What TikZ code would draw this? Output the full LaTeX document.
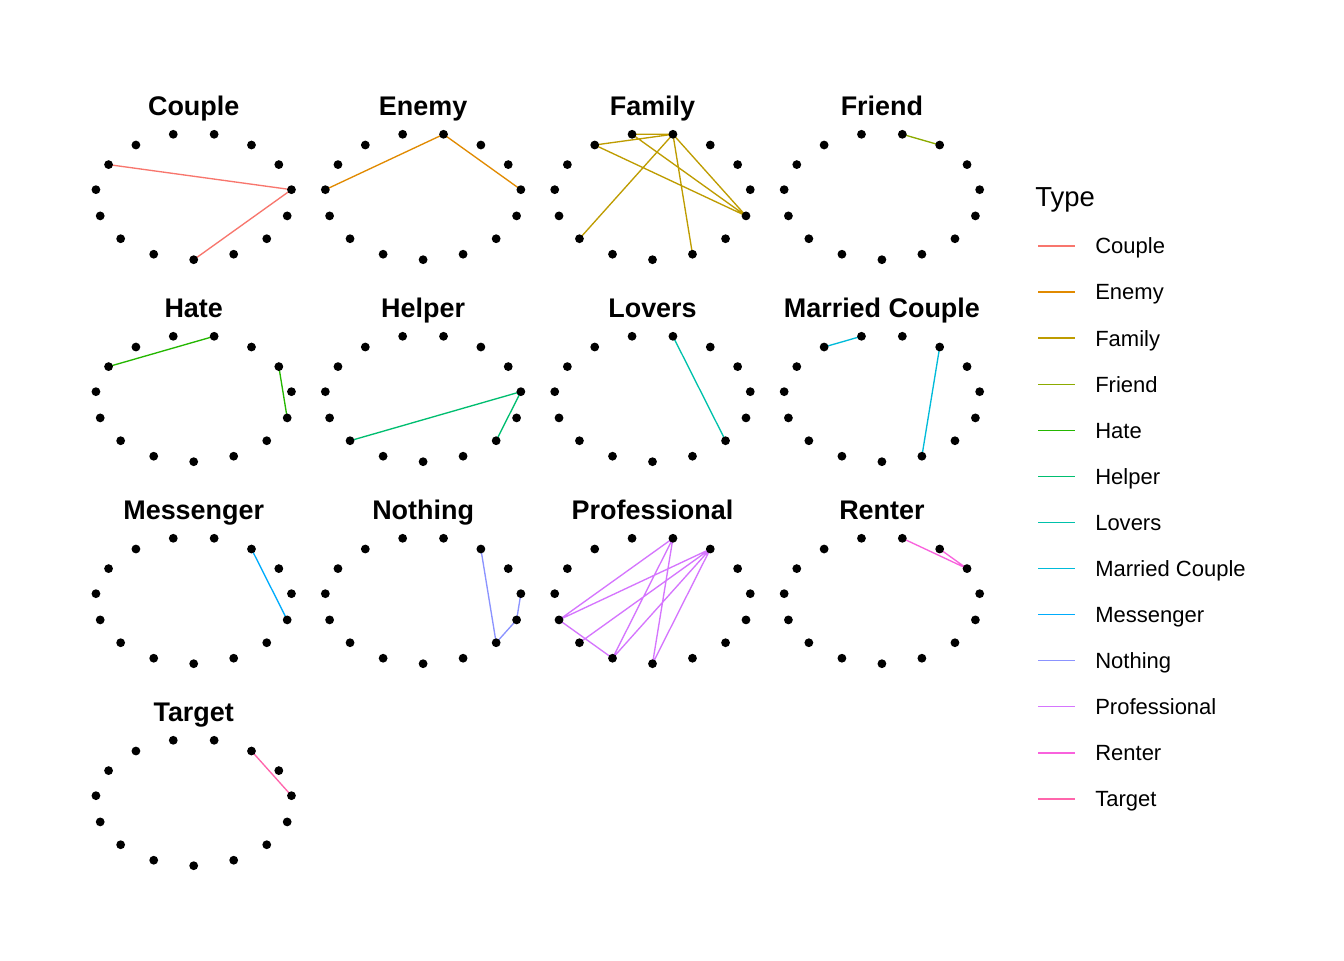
\documentclass[tikz,border=0pt]{standalone}
\usepackage{fontspec}
\setmainfont{Liberation Sans}
\definecolor{cCouple}{HTML}{F8766D}
\definecolor{cEnemy}{HTML}{E18A00}
\definecolor{cFamily}{HTML}{BE9C00}
\definecolor{cFriend}{HTML}{8CAB00}
\definecolor{cHate}{HTML}{24B700}
\definecolor{cHelper}{HTML}{00BE70}
\definecolor{cLovers}{HTML}{00C1AB}
\definecolor{cMarried}{HTML}{00BBDA}
\definecolor{cMessenger}{HTML}{00ACFC}
\definecolor{cNothing}{HTML}{8B93FF}
\definecolor{cProfessional}{HTML}{D575FE}
\definecolor{cRenter}{HTML}{F962DD}
\definecolor{cTarget}{HTML}{FF65AC}
\tikzset{
  paneltitle/.style={font=\fontsize{20.2pt}{24pt}\selectfont\bfseries, anchor=base, inner sep=0pt},
  edgeline/.style={line width=1pt},
  dotmark/.style={fill=black},
  legtitle/.style={font=\fontsize{20.6pt}{24pt}\selectfont, anchor=base west, inner sep=0pt},
  leglabel/.style={font=\fontsize{16.5pt}{20pt}\selectfont, anchor=base west, inner sep=0pt},
  legkey/.style={line width=1pt}
}
\begin{document}
\begin{tikzpicture}[x=0.75pt,y=-0.75pt]
\useasboundingbox[fill=white] (0,0) rectangle (1344,960);
% panel coordinates and titles
\foreach \nm/\c/\r/\ttl in {couple/0/0/Couple, enemy/1/0/Enemy, family/2/0/Family, friend/3/0/Friend,
  hate/0/1/Hate, helper/1/1/Helper, lovers/2/1/Lovers, married/3/1/Married Couple,
  messenger/0/2/Messenger, nothing/1/2/Nothing, professional/2/2/Professional, renter/3/2/Renter,
  target/0/3/Target} {
  \pgfmathsetmacro\cx{193.7+229.4*\c}
  \pgfmathsetmacro\cy{196.3+202*\r}
  \pgfmathsetmacro\ty{115+202*\r}
  \foreach \k in {0,...,14} {
    \coordinate (\nm-\k) at ({\cx+98.3*cos(-90+24*\k)},{\cy-63.4*sin(-90+24*\k)});
  }
  \node[paneltitle] (\nm-title) at (\cx,\ty) {\ttl};
}
% edges
\draw[edgeline,cCouple] (couple-10) -- (couple-4) (couple-4) -- (couple-0);
\draw[edgeline,cEnemy] (enemy-11) -- (enemy-7) (enemy-7) -- (enemy-4);
\draw[edgeline,cFamily] (family-9) -- (family-7) (family-8) -- (family-7)
  (family-9) -- (family-3) (family-8) -- (family-3) (family-7) -- (family-3)
  (family-7) -- (family-13) (family-7) -- (family-1);
\draw[edgeline,cFriend] (friend-7) -- (friend-6);
\draw[edgeline,cHate] (hate-10) -- (hate-7) (hate-5) -- (hate-3);
\draw[edgeline,cHelper] (helper-4) -- (helper-13) (helper-4) -- (helper-2);
\draw[edgeline,cLovers] (lovers-7) -- (lovers-2);
\draw[edgeline,cMarried] (married-9) -- (married-8) (married-6) -- (married-1);
\draw[edgeline,cMessenger] (messenger-6) -- (messenger-3);
\draw[edgeline,cNothing] (nothing-6) -- (nothing-2) (nothing-2) -- (nothing-3) (nothing-3) -- (nothing-4);
\draw[edgeline,cProfessional] (professional-12) -- (professional-7) (professional-12) -- (professional-6)
  (professional-12) -- (professional-14) (professional-7) -- (professional-14)
  (professional-7) -- (professional-0) (professional-6) -- (professional-14)
  (professional-6) -- (professional-0) (professional-6) -- (professional-13);
\draw[edgeline,cRenter] (renter-7) -- (renter-5) (renter-6) -- (renter-5);
\draw[edgeline,cTarget] (target-6) -- (target-4);
% dots
\foreach \nm in {couple,enemy,family,friend,hate,helper,lovers,married,messenger,nothing,professional,renter,target} {
  \foreach \k in {0,...,14} {
    \fill[dotmark] (\nm-\k) circle[radius=4.4];
  }
}
% legend
\node[legtitle] (legtitle) at (1035,206) {Type};
\foreach \lab/\col [count=\i from 0] in {Couple/cCouple, Enemy/cEnemy, Family/cFamily, Friend/cFriend,
  Hate/cHate, Helper/cHelper, Lovers/cLovers, Married Couple/cMarried, Messenger/cMessenger,
  Nothing/cNothing, Professional/cProfessional, Renter/cRenter, Target/cTarget} {
  \pgfmathsetmacro\ly{246+46.08*\i}
  \coordinate (key\i-a) at (1038,\ly);
  \coordinate (key\i-b) at (1075,\ly);
  \draw[legkey,\col] (key\i-a) -- (key\i-b);
  \node[leglabel] (lab\i) at (1095,\ly+7.9) {\lab};
}
\end{tikzpicture}
\end{document}
